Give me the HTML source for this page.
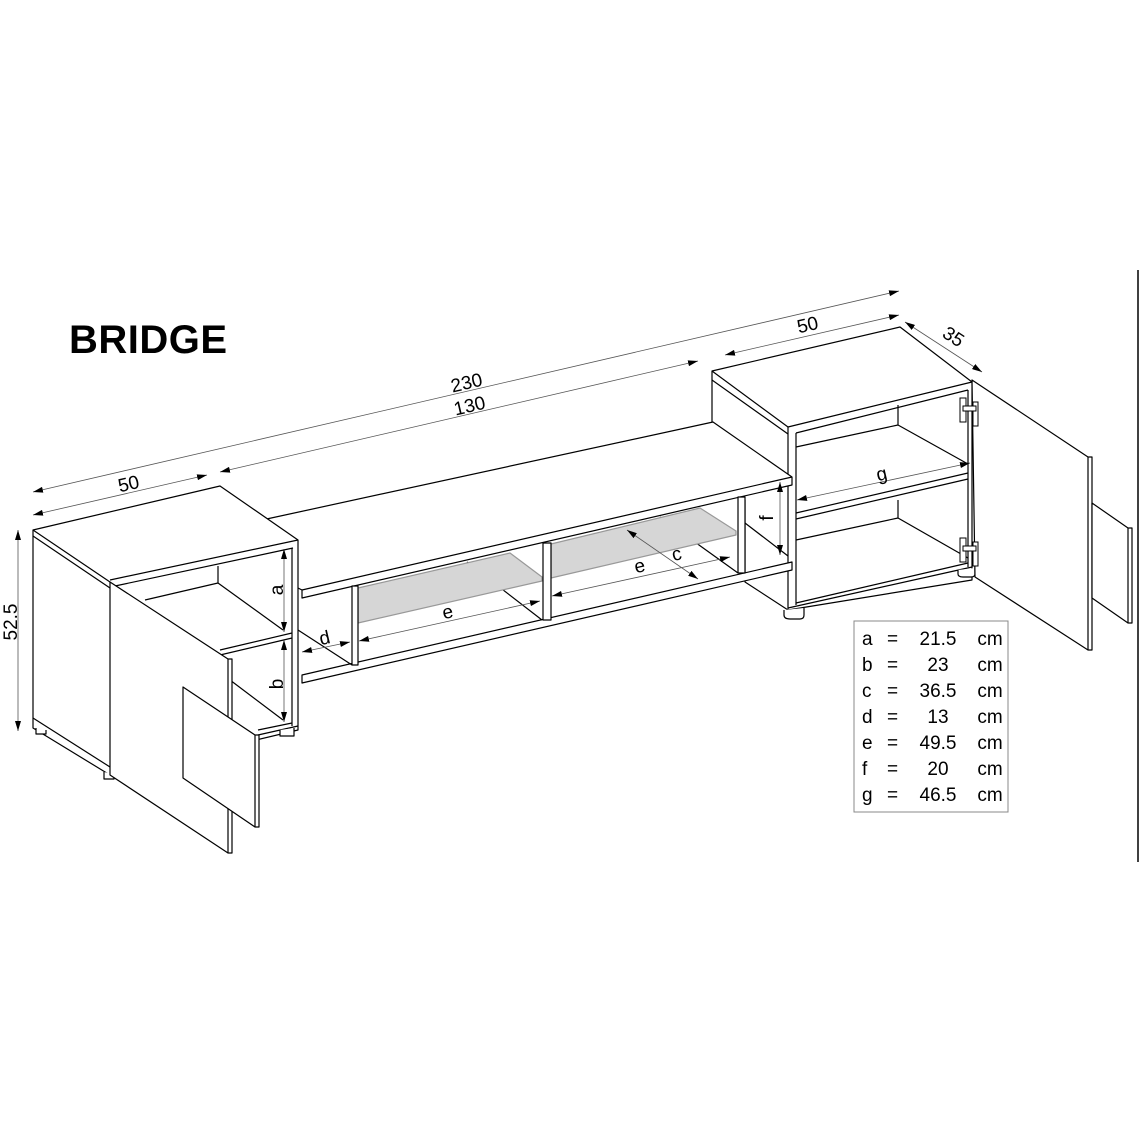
<!DOCTYPE html>
<html><head><meta charset="utf-8"><style>
html,body{margin:0;padding:0;background:#fff;}
svg{display:block;}
text{font-family:"Liberation Sans",Arial,sans-serif;fill:#000;}
</style></head><body>
<svg width="1140" height="1140" viewBox="0 0 1140 1140" xmlns="http://www.w3.org/2000/svg">
<defs>
<marker id="ar" viewBox="0 0 10 6" refX="10" refY="3" markerWidth="10" markerHeight="6" orient="auto-start-reverse" markerUnits="userSpaceOnUse"><path d="M0,0 L10,3 L0,6 Z" fill="#000"/></marker>
</defs>
<rect width="1140" height="1140" fill="#fff"/>
<text x="69" y="353" font-size="40" font-weight="bold" style="font-weight:900" letter-spacing="0.5">BRIDGE</text>
<line x1="1138" y1="270" x2="1138" y2="862" stroke="#000" stroke-width="1.5"/>

<!-- RIGHT CABINET -->
<g stroke="#000" stroke-width="1.2" fill="#fff" stroke-linejoin="round">
<polygon points="712,371 900,327 972,382 972,580 788,610 745,582 745,500 712,478"/>
<line x1="712" y1="371" x2="788" y2="427"/>
<line x1="712" y1="380" x2="788" y2="434"/>
<line x1="788" y1="427" x2="972" y2="382"/>
<line x1="796" y1="433" x2="968" y2="390"/>
<line x1="788" y1="427" x2="788" y2="610"/>
<line x1="796" y1="433" x2="796" y2="605"/>
<line x1="968" y1="390" x2="968" y2="567"/>
<line x1="788" y1="608" x2="972" y2="567"/>
<line x1="796" y1="603" x2="968" y2="563"/>
<line x1="796" y1="447" x2="898" y2="425"/>
<line x1="898" y1="405" x2="898" y2="425"/>
<line x1="898" y1="425" x2="968" y2="464"/>
<line x1="796" y1="513" x2="968" y2="473"/>
<line x1="796" y1="519" x2="968" y2="479"/>
<line x1="796" y1="540" x2="898" y2="518"/>
<line x1="898" y1="500" x2="898" y2="518"/>
<line x1="898" y1="518" x2="968" y2="558"/>
<path d="M784,610 v5 q0,4 6,4 h10 q4,0 4,-4 v-7" />
<path d="M958,570 v4 q0,3 5,3 h8 q4,0 4,-3 v-6"/>
<polygon points="972,380 1088,457 1092,457 1092,650 1088,650 975,577"/>
<line x1="1088" y1="457" x2="1088" y2="650"/>
<polygon points="1092,503 1128,528 1132,528 1132,623 1128,623 1092,598"/>
<line x1="1128" y1="528" x2="1128" y2="623"/>
</g>
<g stroke="#000" stroke-width="1" fill="#fff">
<rect x="960" y="398" width="6" height="24"/><rect x="973" y="402" width="5" height="24"/><rect x="963" y="406" width="13" height="5"/>
<rect x="960" y="538" width="6" height="24"/><rect x="973" y="542" width="5" height="24"/><rect x="963" y="546" width="13" height="5"/>
</g>

<!-- MIDDLE UNIT -->
<g stroke="#000" stroke-width="1.2" fill="#fff" stroke-linejoin="round">
<polygon points="745,500 745,573 302,675 302,598"  stroke="none"/>
<polygon points="262,520 713,422 792,477 792,485 302,598 302,590 298,588"/>
<line x1="302" y1="590" x2="792" y2="477"/>
<polygon points="302,675 792,562 792,570 302,683" />
<line x1="298" y1="630" x2="352" y2="665"/>
<line x1="467" y1="562" x2="542" y2="620"/>
<line x1="660" y1="517" x2="738" y2="573"/>
<line x1="745" y1="523" x2="788" y2="556"/>
<polygon points="358,588 510,553 542,577 542,581 358,623" fill="#d6d6d6" stroke="#999"/>
<polygon points="551,544 700,508 736,531 736,535 551,578" fill="#d6d6d6" stroke="#999"/>
<rect x="352" y="586" width="6" height="79"/>
<rect x="543" y="543" width="8" height="77"/>
<rect x="738" y="497" width="7" height="76"/>
</g>

<!-- dimension lines -->
<g stroke="#555" stroke-width="0.8" fill="none">
<line x1="33" y1="492" x2="899" y2="291" marker-start="url(#ar)" marker-end="url(#ar)"/>
<line x1="33" y1="515" x2="207" y2="475" marker-start="url(#ar)" marker-end="url(#ar)"/>
<line x1="220" y1="472" x2="698" y2="361" marker-start="url(#ar)" marker-end="url(#ar)"/>
<line x1="725" y1="355" x2="899" y2="315" marker-start="url(#ar)" marker-end="url(#ar)"/>
<line x1="905" y1="322" x2="982" y2="372" marker-start="url(#ar)" marker-end="url(#ar)"/>
<line x1="18" y1="530" x2="18" y2="731" marker-start="url(#ar)" marker-end="url(#ar)"/>
<line x1="284" y1="549" x2="284" y2="632" marker-start="url(#ar)" marker-end="url(#ar)"/>
<line x1="284" y1="640" x2="284" y2="722" marker-start="url(#ar)" marker-end="url(#ar)"/>
<line x1="302" y1="652" x2="350" y2="642" marker-start="url(#ar)" marker-end="url(#ar)"/>
<line x1="359" y1="641" x2="540" y2="601" marker-start="url(#ar)" marker-end="url(#ar)"/>
<line x1="552" y1="596" x2="730" y2="557" marker-start="url(#ar)" marker-end="url(#ar)"/>
<line x1="627" y1="530" x2="698" y2="579" marker-start="url(#ar)" marker-end="url(#ar)"/>
<line x1="780" y1="482" x2="780" y2="555" marker-start="url(#ar)" marker-end="url(#ar)"/>
<line x1="797" y1="500" x2="970" y2="463" marker-start="url(#ar)" marker-end="url(#ar)"/>
</g>
<g font-size="19">
<text transform="translate(130,490) rotate(-13)" text-anchor="middle">50</text>
<text transform="translate(468,389) rotate(-13)" text-anchor="middle">230</text>
<text transform="translate(471,412) rotate(-13)" text-anchor="middle">130</text>
<text transform="translate(809,331) rotate(-13)" text-anchor="middle">50</text>
<text transform="translate(950,342) rotate(33)" text-anchor="middle">35</text>
<text transform="translate(17,622) rotate(-90)" text-anchor="middle">52.5</text>
<text transform="translate(283,590) rotate(-90)" text-anchor="middle">a</text>
<text transform="translate(283,684) rotate(-90)" text-anchor="middle">b</text>
<text transform="translate(326,644) rotate(-13)" text-anchor="middle">d</text>
<text transform="translate(449,618) rotate(-13)" text-anchor="middle">e</text>
<text transform="translate(641,572) rotate(-13)" text-anchor="middle">e</text>
<text transform="translate(678,560) rotate(-13)" text-anchor="middle">c</text>
<text transform="translate(773,518) rotate(-90)" text-anchor="middle">f</text>
<text transform="translate(883,480) rotate(-13)" text-anchor="middle">g</text>
</g>

<!-- LEFT CABINET -->
<g stroke="#000" stroke-width="1.2" fill="#fff" stroke-linejoin="round">
<polygon points="33,530 220,486 298,540 298,730 110,775 33,728"/>
<line x1="33" y1="530" x2="110" y2="582"/>
<line x1="33" y1="536" x2="110" y2="588"/>
<line x1="33" y1="718" x2="110" y2="767"/>
<line x1="110" y1="580" x2="298" y2="540"/>
<line x1="115" y1="586" x2="293" y2="548"/>
<line x1="292" y1="548" x2="292" y2="726"/>
<line x1="145" y1="600" x2="218" y2="583"/>
<line x1="218" y1="583" x2="283" y2="630"/>
<line x1="218" y1="566" x2="218" y2="583"/>
<line x1="220" y1="650" x2="292" y2="633"/>
<line x1="220" y1="655" x2="292" y2="638"/>
<line x1="230" y1="680" x2="283" y2="720"/>
<line x1="258" y1="735" x2="298" y2="726"/>
<line x1="258" y1="730" x2="292" y2="723"/>
<path d="M36,728 v6 h10 v-4" fill="#fff"/>
<path d="M104,772 v7 h10 v-5" fill="#fff"/>
<path d="M280,730 v6 h14 v-8" fill="#fff"/>
<polygon points="110,582 228,659 232,659 232,853 228,853 110,775"/>
<line x1="228" y1="659" x2="228" y2="853"/>
<polygon points="183,687 255,735 259,735 259,827 255,827 183,778"/>
<line x1="255" y1="735" x2="255" y2="827"/>
</g>
<g stroke="#555" stroke-width="0.8" fill="none">
<line x1="284" y1="549" x2="284" y2="632" marker-start="url(#ar)" marker-end="url(#ar)"/>
<line x1="284" y1="640" x2="284" y2="722" marker-start="url(#ar)" marker-end="url(#ar)"/>
</g>
<g font-size="19">
<text transform="translate(283,590) rotate(-90)" text-anchor="middle">a</text>
<text transform="translate(283,684) rotate(-90)" text-anchor="middle">b</text>
</g>

<!-- table -->
<rect x="854" y="621" width="154" height="191" fill="#fff" stroke="#888" stroke-width="1"/>
<g font-size="19">
<text x="862" y="645">a</text><text x="887" y="645">=</text><text x="938" y="645" text-anchor="middle">21.5</text><text x="990" y="645" text-anchor="middle">cm</text>
<text x="862" y="671">b</text><text x="887" y="671">=</text><text x="938" y="671" text-anchor="middle">23</text><text x="990" y="671" text-anchor="middle">cm</text>
<text x="862" y="697">c</text><text x="887" y="697">=</text><text x="938" y="697" text-anchor="middle">36.5</text><text x="990" y="697" text-anchor="middle">cm</text>
<text x="862" y="723">d</text><text x="887" y="723">=</text><text x="938" y="723" text-anchor="middle">13</text><text x="990" y="723" text-anchor="middle">cm</text>
<text x="862" y="749">e</text><text x="887" y="749">=</text><text x="938" y="749" text-anchor="middle">49.5</text><text x="990" y="749" text-anchor="middle">cm</text>
<text x="862" y="775">f</text><text x="887" y="775">=</text><text x="938" y="775" text-anchor="middle">20</text><text x="990" y="775" text-anchor="middle">cm</text>
<text x="862" y="801">g</text><text x="887" y="801">=</text><text x="938" y="801" text-anchor="middle">46.5</text><text x="990" y="801" text-anchor="middle">cm</text>
</g>
</svg>
</body></html>
